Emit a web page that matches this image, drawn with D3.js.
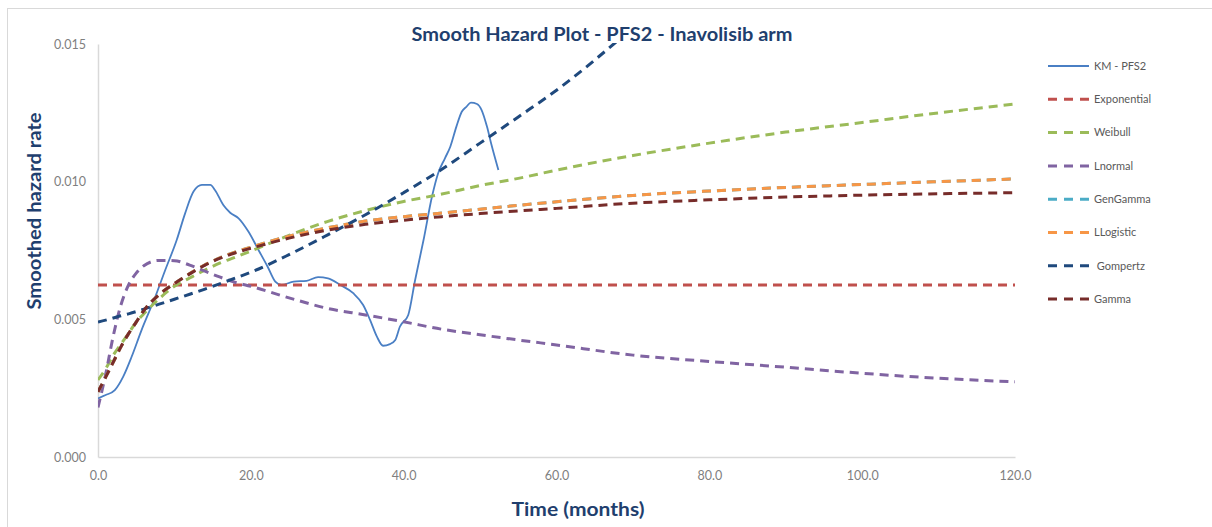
<!DOCTYPE html>
<html>
<head>
<meta charset="utf-8">
<script src="https://cdn.jsdelivr.net/npm/d3@7"></script>
<style>
  html, body { margin: 0; padding: 0; background: #fff; }
  svg { display: block; }
  text { font-family: Lato, "Open Sans", sans-serif; }
</style>
</head>
<body>
<svg id="chart" width="1212" height="527"></svg>
<script>
// Smoothed hazard estimates: Kaplan-Meier curve and parametric fits (PFS2, Inavolisib arm)

const kmTime = [0, 1, 2.2, 3.3, 4.4, 5.7, 7.5, 8.8, 10.3, 11.4, 12.5, 13.6, 14.7, 15.3, 16.4, 17.3,
  18.4, 19.7, 21.0, 22.2, 23.2, 24.0, 25.6, 27.3, 28.8, 30.1, 31.7, 33.4, 34.7, 35.6, 36.5, 37.3,
  38.2, 38.9, 39.5, 40.6, 41.5, 42.6, 43.7, 44.5, 45.4, 46.1, 46.9, 47.6, 48.2, 48.8, 49.6, 50.2,
  50.9, 51.5, 52.4];
const kmHazard = [0.00213, 0.00225, 0.00243, 0.00292, 0.00364, 0.00461, 0.00582, 0.00679, 0.00788,
  0.00885, 0.00964, 0.00988, 0.00988, 0.0097, 0.00915, 0.00887, 0.00867, 0.00818, 0.00752, 0.00691,
  0.00637, 0.00625, 0.00637, 0.0064, 0.00653, 0.00649, 0.00625, 0.00595, 0.00552, 0.00498, 0.00437,
  0.00404, 0.0041, 0.00425, 0.00473, 0.00516, 0.00643, 0.00788, 0.00945, 0.0103, 0.01085, 0.01127,
  0.012, 0.01254, 0.01272, 0.01287, 0.01282, 0.0126, 0.012, 0.01133, 0.01042];

const fitTime = [0, 1, 2, 3, 4, 5, 6, 8, 10, 12, 14, 16, 18, 20, 25, 30, 35, 40, 45, 50, 55, 60,
  70, 80, 90, 100, 110, 120];

const exponential = [0.00625, 0.00625, 0.00625, 0.00625, 0.00625, 0.00625, 0.00625, 0.00625, 0.00625,
  0.00625, 0.00625, 0.00625, 0.00625, 0.00625, 0.00625, 0.00625, 0.00625, 0.00625, 0.00625, 0.00625,
  0.00625, 0.00625, 0.00625, 0.00625, 0.00625, 0.00625, 0.00625, 0.00625];
const weibull = [0.0028, 0.0032, 0.0037, 0.0041, 0.00449, 0.0049, 0.0052, 0.00575, 0.0062, 0.0065,
  0.00679, 0.00705, 0.00726, 0.00748, 0.00805, 0.00855, 0.00895, 0.00928, 0.00955, 0.00986, 0.01012,
  0.01042, 0.01095, 0.0114, 0.0118, 0.01215, 0.0125, 0.01282];
const lnormal = [0.0018, 0.0030, 0.0044, 0.00552, 0.00625, 0.00668, 0.00695, 0.00714, 0.00713,
  0.00697, 0.00675, 0.00653, 0.00634, 0.0062, 0.00578, 0.0054, 0.00516, 0.00491, 0.00464, 0.00444,
  0.00425, 0.00407, 0.0037, 0.00347, 0.00326, 0.00304, 0.00286, 0.00273];
const genGamma = [0.00237, 0.0029, 0.00345, 0.004, 0.00448, 0.0049, 0.00532, 0.0059, 0.0063, 0.00666,
  0.00698, 0.00724, 0.00745, 0.00762, 0.00802, 0.00832, 0.00857, 0.00873, 0.00886, 0.009, 0.00914,
  0.00927, 0.0095, 0.00966, 0.00979, 0.0099, 0.01, 0.0101];
const lLogistic = [0.00237, 0.0029, 0.00345, 0.004, 0.00448, 0.0049, 0.00532, 0.0059, 0.0063, 0.00666,
  0.00698, 0.00724, 0.00745, 0.00762, 0.00802, 0.00832, 0.00857, 0.00873, 0.00886, 0.009, 0.00914,
  0.00927, 0.0095, 0.00966, 0.00979, 0.0099, 0.01, 0.0101];
const gompertz = [0.0049, 0.00497, 0.00505, 0.00513, 0.0052, 0.00528, 0.00537, 0.00555, 0.00573,
  0.00591, 0.0061, 0.0063, 0.0065, 0.00671, 0.00735, 0.00806, 0.0088, 0.0096, 0.01045, 0.0114,
  0.01235, 0.01332, 0.0156, null, null, null, null, null];
const gamma = [0.00237, 0.0029, 0.00345, 0.004, 0.00448, 0.0049, 0.00532, 0.0059, 0.0063, 0.00665,
  0.00697, 0.00722, 0.00742, 0.00758, 0.00795, 0.00824, 0.00845, 0.0086, 0.00873, 0.00884, 0.00894,
  0.00903, 0.00922, 0.00934, 0.00944, 0.00951, 0.00956, 0.0096];

const seriesNames = ["KM - PFS2", "Exponential", "Weibull", "Lnormal", "GenGamma", "LLogistic", " Gompertz", "Gamma"];
const seriesColors = ["#4a7fc4", "#c0504d", "#9bbb59", "#8064a2", "#4bacc6", "#f79646", "#1f497d", "#772c2a"];
const seriesValues = [kmHazard, exponential, weibull, lnormal, genGamma, lLogistic, gompertz, gamma];

const xTicks = [0, 20, 40, 60, 80, 100, 120];
const yTicks = [0, 0.005, 0.010, 0.015];

const titleText = "Smooth Hazard Plot - PFS2 - Inavolisib arm";
const xTitle = "Time (months)";
const yTitle = "Smoothed hazard rate";

const svg = d3.select("#chart");
const W = 1212, H = 527;

// chart frame
svg.append("rect")
  .attr("x", 7.5).attr("y", 8.5)
  .attr("width", W + 20).attr("height", H + 20)
  .attr("fill", "#fff").attr("stroke", "#d9d9d9").attr("stroke-width", 1);

const x = d3.scaleLinear().domain([0, 120]).range([98, 1015]);
const y = d3.scaleLinear().domain([0, 0.015]).range([457, 44]);

svg.append("defs").append("clipPath").attr("id", "plotClip")
  .append("rect")
  .attr("x", x(0)).attr("y", y(0.015) - 1)
  .attr("width", x(120) - x(0) + 4).attr("height", y(0) - y(0.015) + 4);

// axes
const yAxis = d3.axisLeft(y).tickValues(yTicks).tickFormat(d3.format(".3f")).tickSize(0).tickPadding(12);
const xAxis = d3.axisBottom(x).tickValues(xTicks).tickFormat(d3.format(".1f")).tickSize(0).tickPadding(14);

const gy = svg.append("g").attr("transform", `translate(${x(0)},0)`).call(yAxis);
const gx = svg.append("g").attr("transform", `translate(0,${y(0)})`).call(xAxis);
[gx, gy].forEach(g => {
  g.select(".domain").attr("stroke", "#d9d9d9").attr("stroke-width", 1.5);
  g.selectAll("text")
    .attr("fill", "#7f7f7f")
    .style("font-family", "Lato, sans-serif")
    .style("font-size", "12.5px");
});

// series lines
const plot = svg.append("g").attr("clip-path", "url(#plotClip)");
const line = d3.line()
  .defined(d => d[1] != null)
  .x(d => x(d[0]))
  .y(d => y(d[1]))
  .curve(d3.curveMonotoneX);

seriesValues.forEach((vals, i) => {
  const times = i === 0 ? kmTime : fitTime;
  const pts = times.map((t, j) => [t, vals[j]]);
  const p = plot.append("path")
    .datum(pts)
    .attr("d", line)
    .attr("fill", "none")
    .attr("stroke", seriesColors[i])
    .attr("stroke-linejoin", "round");
  if (i === 0) {
    p.attr("stroke-width", 1.8);
  } else {
    p.attr("stroke-width", 3).attr("stroke-dasharray", "9,6");
  }
});

// titles
svg.append("text")
  .attr("x", 602).attr("y", 41)
  .attr("text-anchor", "middle")
  .attr("fill", "#1f3f6e")
  .style("font-weight", "bold").style("font-size", "18.5px")
  .attr("textLength", 381).attr("lengthAdjust", "spacingAndGlyphs")
  .text(titleText);

svg.append("text")
  .attr("x", 578).attr("y", 516)
  .attr("text-anchor", "middle")
  .attr("fill", "#1f3f6e")
  .style("font-weight", "bold").style("font-size", "19px")
  .attr("textLength", 133).attr("lengthAdjust", "spacingAndGlyphs")
  .text(xTitle);

svg.append("text")
  .attr("transform", "translate(41,211) rotate(-90)")
  .attr("text-anchor", "middle")
  .attr("fill", "#1f3f6e")
  .style("font-weight", "bold").style("font-size", "18.5px")
  .attr("textLength", 197).attr("lengthAdjust", "spacingAndGlyphs")
  .text(yTitle);

// legend
const legend = svg.append("g");
seriesNames.forEach((name, i) => {
  const ly = 66 + i * 33.3;
  const ln = legend.append("line")
    .attr("x1", 1048).attr("x2", 1089)
    .attr("y1", ly).attr("y2", ly)
    .attr("stroke", seriesColors[i]);
  if (i === 0) ln.attr("stroke-width", 2);
  else ln.attr("stroke-width", 3).attr("stroke-dasharray", "9,7");
  legend.append("text")
    .attr("x", 1094).attr("y", ly).attr("dy", "0.35em")
    .attr("fill", "#595959")
    .style("font-size", "11px")
    .style("white-space", "pre")
    .text(name);
});
</script>
</body>
</html>
